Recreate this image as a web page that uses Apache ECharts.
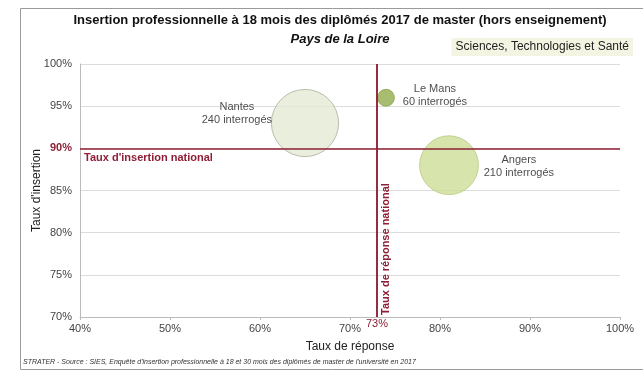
<!DOCTYPE html>
<html>
<head>
<meta charset="utf-8">
<script src="https://cdn.jsdelivr.net/npm/echarts@6/dist/echarts.min.js"></script>
<style>
    html, body { margin: 0; padding: 0; background: #fff; }
    #chart { width: 643px; height: 374px; }
</style>
</head>
<body>
<div id="chart"></div>
<script>
// données
const villes = ['Nantes', 'Le Mans', 'Angers']
const tauxReponse = [65, 74, 81]
const tauxInsertion = [93, 96, 88]
const interroges = [240, 60, 210]
const couleurs = ['#e5ead3', '#93ad4d', '#cddf98']
const bordures = ['#a9ae9a', '#87a043', '#b9c97f']
const labelPos = ['left', 'right', 'right']
const labelOffset = [[6, -10], [0, -2], [0, 1]]
const nationalReponse = 73
const nationalInsertion = 90

const font = 'Liberation Sans, Arial, sans-serif'
const rouge = '#8e1f36'

const chart = echarts.init(document.getElementById('chart'))

const points = villes.map((v, i) => ({
    name: v,
    value: [tauxReponse[i], tauxInsertion[i], interroges[i]],
    symbolSize: interroges[i] * 0.28,
    itemStyle: { color: couleurs[i], borderColor: bordures[i], borderWidth: 1 },
    label: {
        show: true,
        position: labelPos[i],
        offset: labelOffset[i],
        distance: 2,
        formatter: '{a|' + v + '}\n{a|' + interroges[i] + ' interrogés}',
        rich: { a: { width: 76, align: 'center', fontSize: 11, color: '#1a1a1a', lineHeight: 13 } }
    }
}))

chart.setOption({
    animation: false,
    textStyle: { fontFamily: font },
    title: [{
        text: 'Insertion professionnelle à 18 mois des diplômés 2017 de master (hors enseignement)',
        left: 335, top: 9, textAlign: 'center',
        textStyle: { fontSize: 13, fontWeight: 'bold', color: '#111', fontFamily: font }
    }, {
        text: 'Pays de la Loire',
        left: 335, top: 28, textAlign: 'center',
        textStyle: { fontSize: 13, fontWeight: 'bold', fontStyle: 'italic', color: '#111', fontFamily: font }
    }, {
        text: 'Sciences, Technologies et Santé',
        right: 10, top: 38,
        padding: [3, 4],
        backgroundColor: '#f4f4e2',
        textStyle: { fontSize: 12, fontWeight: 'normal', color: '#222', fontFamily: font }
    }],
    graphic: [{
        type: 'rect',
        shape: { x: 20.5, y: 8.5, width: 630, height: 361 },
        style: { fill: 'none', stroke: '#9a9a9a', lineWidth: 1 },
        z: -1
    }, {
        type: 'text',
        left: 23, top: 359,
        style: {
            text: "STRATER - Source : SIES, Enquête d'insertion professionnelle à 18 et 30 mois des diplômés de master de l'université en 2017",
            font: 'italic 7px ' + font,
            fill: '#333'
        }
    }],
    grid: { left: 80, right: 23, top: 64, bottom: 57 },
    xAxis: {
        type: 'value',
        min: 40, max: 100, interval: 10,
        name: 'Taux de réponse',
        nameLocation: 'middle',
        nameGap: 24,
        nameTextStyle: { fontSize: 12, color: '#222' },
        axisLine: { show: true, lineStyle: { color: '#bbb' } },
        axisTick: { show: true, length: 3, lineStyle: { color: '#bbb' } },
        splitLine: { show: false },
        axisLabel: { fontSize: 11, color: '#444', margin: 6, formatter: '{value}%' }
    },
    yAxis: {
        type: 'value',
        min: 70, max: 100, interval: 5,
        name: "Taux d'insertion",
        nameLocation: 'middle',
        nameGap: 37,
        nameMoveOverlap: false,
        nameTextStyle: { fontSize: 12, color: '#222' },
        axisLine: { show: true, lineStyle: { color: '#bbb' } },
        axisTick: { show: false },
        splitLine: {
            show: true,
            interval: function (i) { return i % 2 === 0 },
            lineStyle: { color: '#dcdcdc' }
        },
        axisLabel: {
            fontSize: 11, color: '#444', margin: 8,
            formatter: function (v) { return v === nationalInsertion ? '{r|' + v + '%}' : v + '%' },
            rich: { r: { color: rouge, fontSize: 11, fontWeight: 'bold' } }
        }
    },
    series: [{
        type: 'scatter',
        data: points,
        markLine: {
            silent: true,
            symbol: 'none',
            lineStyle: { color: rouge, width: 1.5, type: 'solid' },
            data: [
                {
                    yAxis: nationalInsertion,
                    label: {
                        position: 'insideStartBottom',
                        formatter: "Taux d'insertion national",
                        color: rouge, fontSize: 11, fontWeight: 'bold', distance: [4, 4]
                    }
                },
                {
                    xAxis: nationalReponse,
                    label: {
                        position: 'start',
                        formatter: nationalReponse + '%',
                        color: rouge, fontSize: 11, distance: 1
                    }
                },
                {
                    xAxis: nationalReponse,
                    label: {
                        position: 'insideStartBottom',
                        formatter: 'Taux de réponse national',
                        color: rouge, fontSize: 11, fontWeight: 'bold', distance: [2, 3]
                    }
                }
            ]
        },
        z: 3
    }]
})
</script>
</body>
</html>
